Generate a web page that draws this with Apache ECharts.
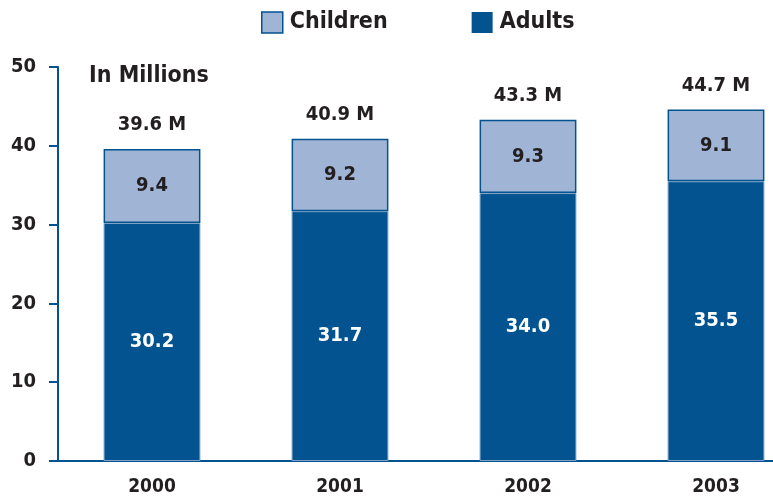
<!DOCTYPE html>
<html>
<head>
<meta charset="utf-8">
<style>
  html, body { margin: 0; padding: 0; background: #fff; overflow: hidden; }
  /* the last category slot runs past the right edge of the window */
  #chart { width: 810px; height: 497px; }
</style>
<script src="https://cdn.jsdelivr.net/npm/echarts@6/dist/echarts.min.js"></script>
</head>
<body>
<div id="chart"></div>
<script>
// Population in millions, split into adults and children
const years = ['2000', '2001', '2002', '2003'];
const adults = [30.2, 31.7, 34.0, 35.5];
const children = [9.4, 9.2, 9.3, 9.1];
const totals = [39.6, 40.9, 43.3, 44.7];
const yTicks = [0, 10, 20, 30, 40, 50];

const FONT = '"Liberation Sans Narrow", "DejaVu Sans Condensed", "Roboto", sans-serif';
const DARK = '#02538f';
const LIGHT = '#a0b5d5';
const TEXT = '#231f20';

const chart = echarts.init(document.getElementById('chart'), null, { renderer: 'canvas' });

chart.setOption({
  animation: false,
  backgroundColor: '#ffffff',
  textStyle: { fontFamily: FONT },
  legend: {
    top: 6,
    left: 256,
    itemGap: 84,
    itemWidth: 21,
    itemHeight: 21,
    icon: 'rect',
    textStyle: { fontFamily: FONT, fontSize: 23, fontWeight: 'bold', color: TEXT, padding: [0, 0, 0, 2] },
    data: [
      { name: 'Children', itemStyle: { color: LIGHT, borderColor: DARK, borderWidth: 1.5 } },
      { name: 'Adults', itemStyle: { color: DARK, borderColor: DARK, borderWidth: 0 } }
    ]
  },
  title: {
    text: 'In Millions',
    left: 84,
    top: 60,
    textStyle: { fontFamily: FONT, fontSize: 23, fontWeight: 'bold', color: TEXT }
  },
  grid: { left: 58, top: 67, right: 0, bottom: 35, containLabel: false },
  xAxis: {
    type: 'category',
    data: years,
    axisLine: { show: true, lineStyle: { color: DARK, width: 2 } },
    axisTick: { show: false },
    axisLabel: { fontFamily: FONT, fontSize: 19, fontWeight: 'bold', color: TEXT, margin: 17 }
  },
  yAxis: {
    type: 'value',
    min: yTicks[0],
    max: yTicks[yTicks.length - 1],
    interval: 10,
    splitLine: { show: false },
    axisLine: { show: true, lineStyle: { color: DARK, width: 2 } },
    axisTick: { show: true, length: 9, lineStyle: { color: DARK, width: 2 } },
    axisLabel: { fontFamily: FONT, fontSize: 20, fontWeight: 'bold', color: TEXT, margin: 22 }
  },
  series: [
    {
      name: 'Adults',
      type: 'bar',
      stack: 'pop',
      data: adults,
      barWidth: '51.5%',
      itemStyle: { color: DARK, borderColor: '#7fa3c8', borderWidth: 1 },
      label: {
        show: true,
        position: 'inside',
        formatter: p => p.value.toFixed(1),
        fontFamily: FONT, fontSize: 20, fontWeight: 'bold', color: '#ffffff'
      }
    },
    {
      name: 'Children',
      type: 'bar',
      stack: 'pop',
      data: children,
      itemStyle: { color: LIGHT, borderColor: DARK, borderWidth: 1.5 },
      label: {
        show: true,
        position: 'inside',
        formatter: p => p.value.toFixed(1),
        fontFamily: FONT, fontSize: 20, fontWeight: 'bold', color: TEXT
      }
    },
    {
      name: 'Total',
      type: 'bar',
      stack: 'pop',
      data: totals.map(() => 0),
      itemStyle: { color: 'transparent' },
      label: {
        show: true,
        position: 'top',
        distance: 14,
        formatter: p => totals[p.dataIndex].toFixed(1) + ' M',
        fontFamily: FONT, fontSize: 20, fontWeight: 'bold', color: TEXT
      }
    }
  ]
});
</script>
</body>
</html>
